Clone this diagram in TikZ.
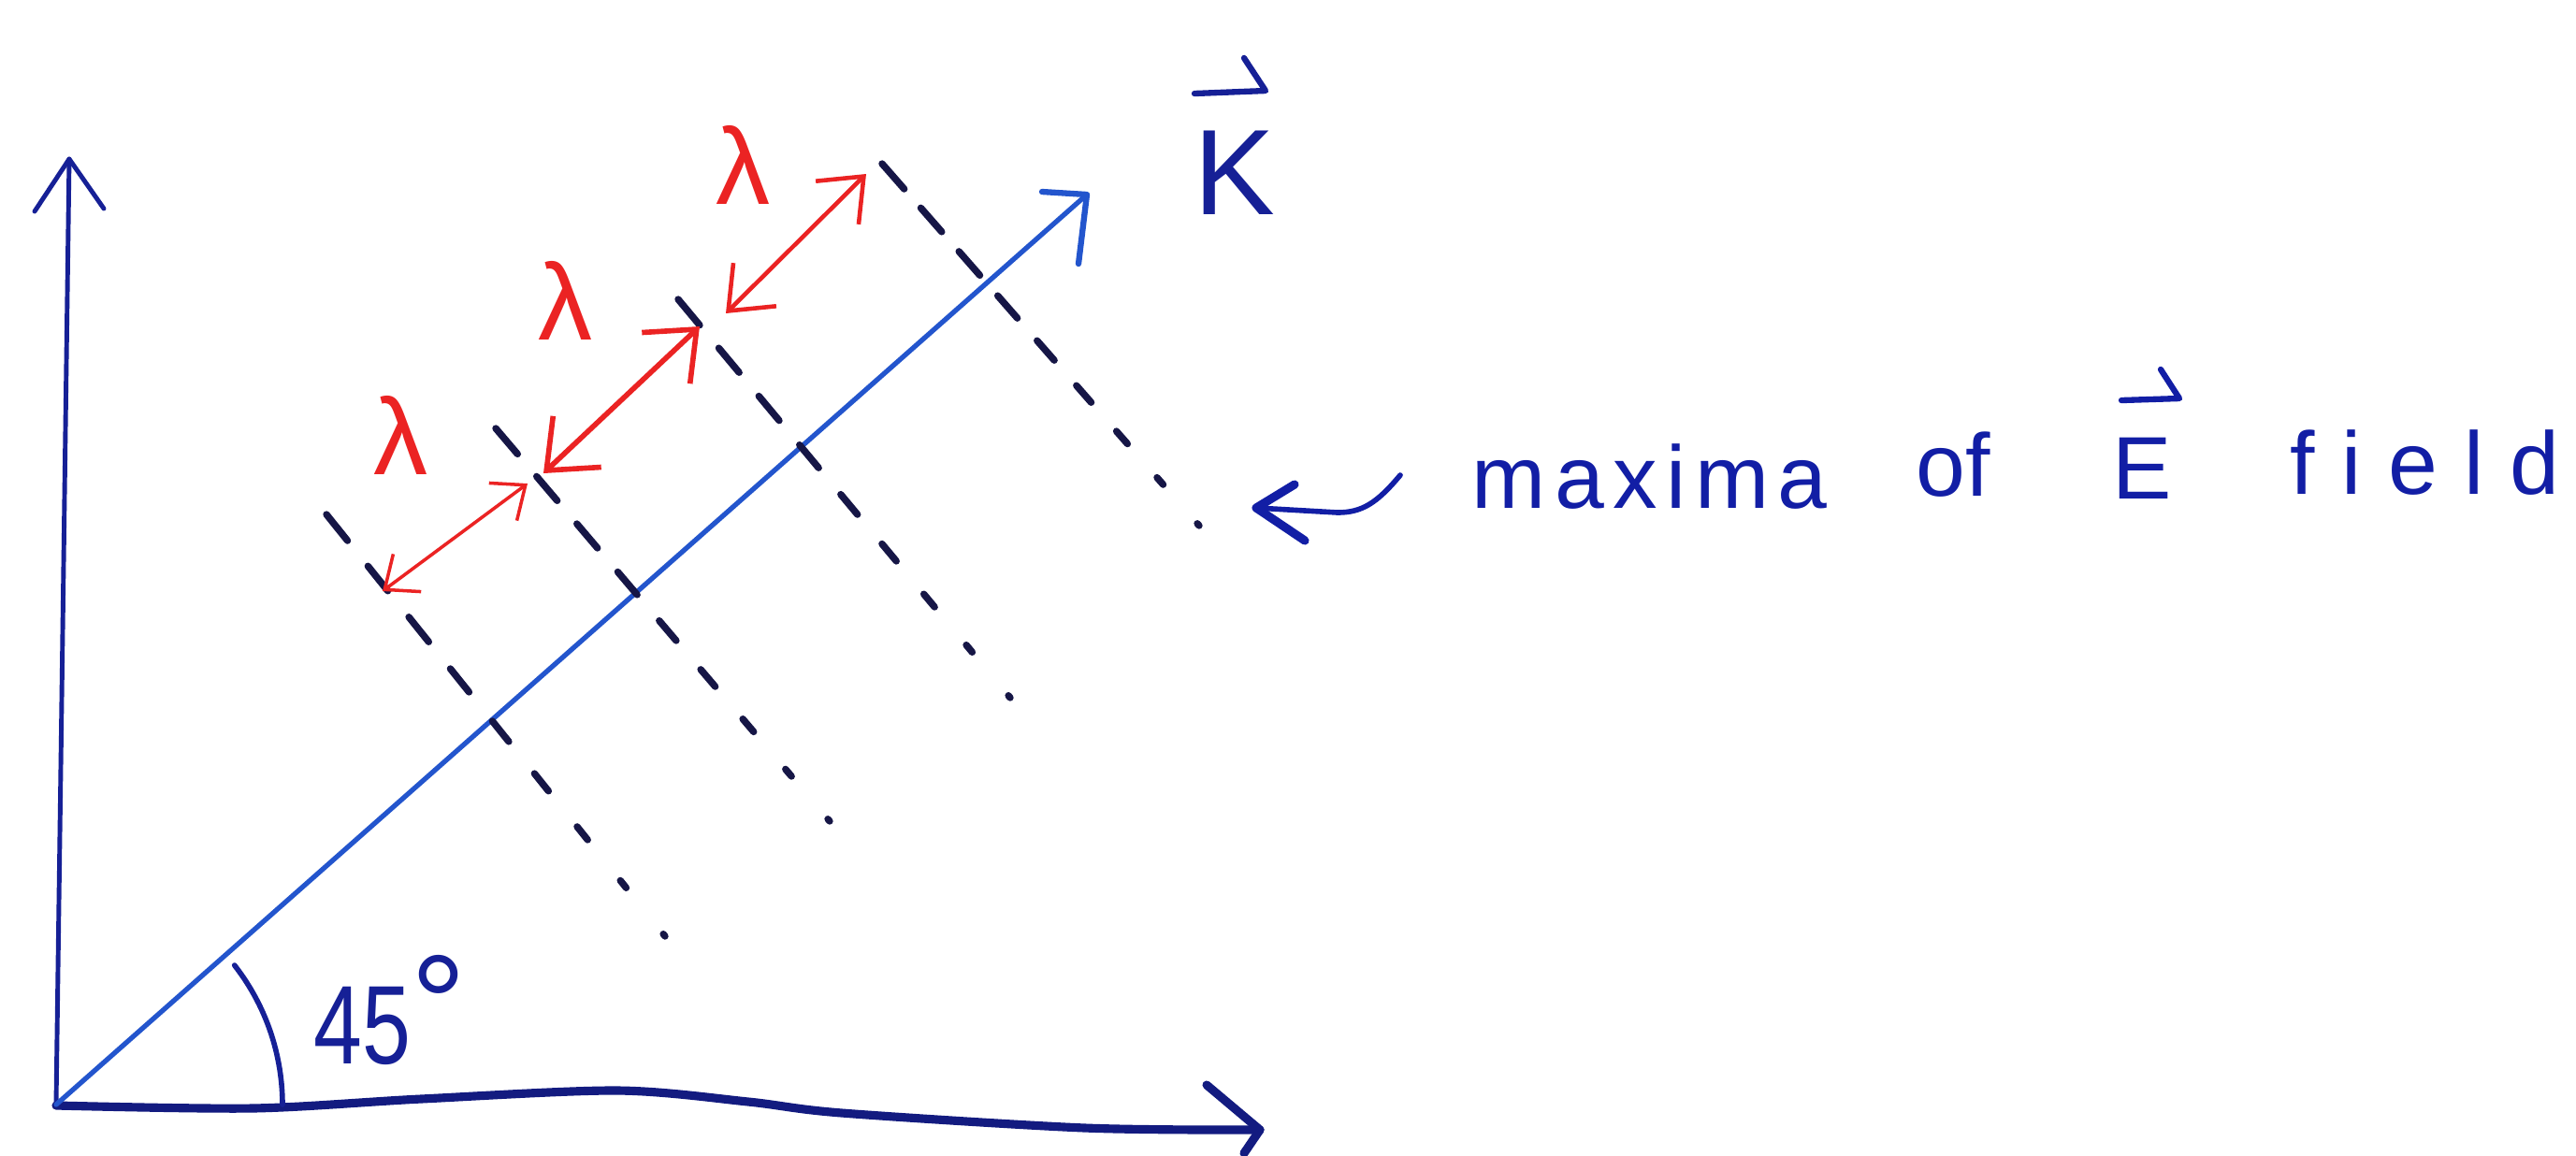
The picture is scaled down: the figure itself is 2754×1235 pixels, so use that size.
\documentclass[tikz,border=0pt]{standalone}
\usepackage{fontspec}
\setmainfont{Liberation Sans}
\newfontfamily\hand{Liberation Sans}
\usetikzlibrary{arrows.meta,calc}
\definecolor{axisblue}{RGB}{22,32,150}
\definecolor{kblue}{RGB}{35,85,205}
\definecolor{textblue}{RGB}{18,30,165}
\definecolor{dashcol}{RGB}{22,22,70}
\definecolor{redc}{RGB}{235,35,35}
\begin{document}
\begin{tikzpicture}[x=0.01cm,y=-0.01cm,
  axisline/.style={draw=axisblue,line width=1.4pt,line cap=round,line join=round},
  xaxisline/.style={draw=axisblue!85!black,line width=2.6pt,line cap=round,line join=round},
  kline/.style={draw=kblue,line width=1.5pt,line cap=round,line join=round},
  dashmark/.style={draw=dashcol,line width=2.1pt,line cap=round},
  redarrow/.style={draw=redc,line cap=round},
  txtline/.style={draw=textblue,line width=1.6pt,line cap=round,line join=round},
  handtxt/.style={text=textblue,inner sep=0pt,font=\hand\fontsize{27}{27}\selectfont},
  lamtxt/.style={text=redc,inner sep=0pt,font=\hand\fontsize{33}{33}\selectfont}]
\fill[white] (0,0) rectangle (2754,1235);
\useasboundingbox (0,0) rectangle (2754,1235);

% axes
\coordinate (O) at (60,1181);
\coordinate (ytip) at (74,170);
\coordinate (xtip) at (1347,1208);
\coordinate (ktip) at (1162,208);
\draw[axisline] (O) -- (ytip);
\draw[axisline] (37,226) -- (ytip) -- (111,223);
\draw[xaxisline] plot[smooth,tension=0.5] coordinates {(60,1182) (270,1185) (450,1175) (660,1166) (800,1178) (900,1190) (1160,1206) (1347,1208)};
\draw[xaxisline] (1290,1160) -- (xtip) -- (1330,1233);

% wave vector
\draw[kline] (O) -- (ktip);
\draw[kline,line width=1.8pt] (1114,205) -- (ktip) -- (1153,282);

% angle arc and label
\draw[axisline,line width=1.6pt] plot[domain=0:38,samples=30] ({60+242*cos(\x)},{1181-242*sin(\x)});
\node[anchor=base west,text=axisblue,inner sep=0pt,font=\hand\fontsize{34}{34}\selectfont] (ang) at (335,1137) {\scalebox{0.78}[1]{45}\raisebox{0.13cm}{\fontsize{42}{42}\selectfont °}};

% K label
\node[anchor=base west,text=axisblue,inner sep=0pt,font=\hand\fontsize{37}{37}\selectfont] (klabel) at (1276,229) {K};
\draw[axisline,line width=1.8pt] (1277,100) -- (1353,97) -- (1330,62);

% dashed wavefronts (maxima)
\coordinate (L1s) at (349,550); \coordinate (L1e) at (711,1001);
\coordinate (L2s) at (530,458); \coordinate (L2e) at (887,878);
\coordinate (L3s) at (725,320); \coordinate (L3e) at (1080,746);
\coordinate (L4s) at (943,175); \coordinate (L4e) at (1282,562);
\foreach \S/\E/\L in {L1s/L1e/578,L2s/L2e/551,L3s/L3e/555,L4s/L4e/515}{
  \foreach \i/\h in {0/18,1/17,2/17,3/16,4/14,5/12,6/9,7/5,8/1.5}{
    \pgfmathsetmacro\c{18+\i*(\L-19.5)/8}
    \pgfmathsetmacro\a{(\c-\h)/\L}
    \pgfmathsetmacro\b{(\c+\h)/\L}
    \draw[dashmark] ($(\S)!\a!(\E)$) -- ($(\S)!\b!(\E)$);
  }
}

% wavelength arrows
\coordinate (a1s) at (409,632); \coordinate (a1e) at (564,517);
\coordinate (a2s) at (581,506); \coordinate (a2e) at (748,349);
\coordinate (a3s) at (776,335); \coordinate (a3e) at (926,186);
\draw[redarrow,line width=1pt,{Straight Barb[length=0.3cm,width=0.5cm]}-{Straight Barb[length=0.3cm,width=0.5cm]}] (a1s) -- (a1e);
\draw[redarrow,line width=1.6pt,{Straight Barb[length=0.45cm,width=0.75cm]}-{Straight Barb[length=0.45cm,width=0.75cm]}] (a2s) -- (a2e);
\draw[redarrow,line width=1.3pt,{Straight Barb[length=0.4cm,width=0.65cm]}-{Straight Barb[length=0.4cm,width=0.65cm]}] (a3s) -- (a3e);
\node[lamtxt] (lam1) at (429,465) {λ};
\node[lamtxt] (lam2) at (605,321) {λ};
\node[lamtxt] (lam3) at (795,176) {λ};

% label
\coordinate (ptail) at (1497,508);
\coordinate (ptip) at (1343,543);
\draw[txtline] (ptail) .. controls (1472,538) and (1456,548) .. (1430,548) -- (ptip);
\draw[txtline,line width=2.6pt] (1384,518) -- (ptip) -- (1395,578);
\node[handtxt,anchor=base west] (w1) at (1573,543) {\addfontfeature{LetterSpace=10}maxima};
\node[handtxt,anchor=base west] (w2) at (2048,530) {of};
\node[handtxt,anchor=base west] (w3) at (2258,533) {E};
\draw[txtline,line width=1.8pt] (2268,428) -- (2330,426) -- (2310,395);
\node[handtxt,anchor=base west] (w4) at (2448,528) {\addfontfeature{LetterSpace=30}field};
\end{tikzpicture}
\end{document}
